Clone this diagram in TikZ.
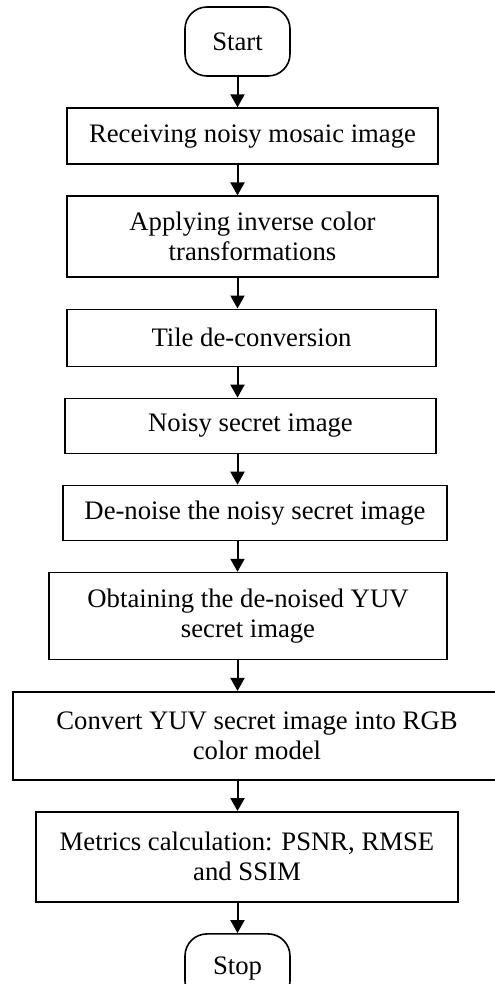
\documentclass[tikz,border=0pt]{standalone}
\usepackage{fontspec}
\setmainfont{Liberation Serif}
\usetikzlibrary{positioning,arrows.meta}

\begin{document}
\begin{tikzpicture}[
terminal/.style={draw,line width=0.8pt,rounded corners=11pt,minimum width=52.5pt,minimum height=34.5pt},
process/.style={draw,line width=0.8pt,align=center,inner sep=2pt},
flowline/.style={line width=1pt,-{Triangle[length=6.5pt,width=7pt]}},
node distance=15.25pt,
font=\fontsize{13.35pt}{15pt}\selectfont]
\useasboundingbox (0,0) rectangle (247pt,-492pt);
\node[terminal] (start) at (118.75pt,-20.75pt) {Start};
\node[process,minimum width=185.5pt,minimum height=28pt,below=of start,xshift=7.5pt] (receive) {Receiving noisy mosaic image};
\node[process,minimum width=185.5pt,minimum height=40.5pt,below=of receive] (inverse) {Applying inverse color\\transformations};
\node[process,minimum width=184.5pt,minimum height=28.5pt,below=of inverse,xshift=-0.5pt] (tile) {Tile de-conversion};
\node[process,minimum width=185.5pt,minimum height=27.5pt,below=of tile,xshift=-0.5pt] (noisy) {Noisy secret image};
\node[process,minimum width=192pt,minimum height=27.5pt,below=of noisy,xshift=2.25pt] (denoise) {De-noise the noisy secret image};
\node[process,minimum width=199pt,minimum height=43.5pt,below=of denoise,xshift=-3.5pt] (obtain) {Obtaining the de-noised YUV\\secret image};
\node[process,minimum width=244pt,minimum height=44pt,below=of obtain,xshift=4.5pt] (convert) {Convert YUV secret image into RGB\\color model};
\node[process,minimum width=211pt,minimum height=45pt,below=of convert,xshift=-5pt] (metrics) {Metrics calculation: PSNR, RMSE\\and SSIM};
\node[terminal,below=of metrics,xshift=-4.75pt] (stop) {Stop};

\draw[flowline] (start) -- (receive.north -| start);
\draw[flowline] (receive.south -| start) -- (inverse.north -| start);
\draw[flowline] (inverse.south -| start) -- (tile.north -| start);
\draw[flowline] (tile.south -| start) -- (noisy.north -| start);
\draw[flowline] (noisy.south -| start) -- (denoise.north -| start);
\draw[flowline] (denoise.south -| start) -- (obtain.north -| start);
\draw[flowline] (obtain.south -| start) -- (convert.north -| start);
\draw[flowline] (convert.south -| start) -- (metrics.north -| start);
\draw[flowline] (metrics.south -| start) -- (stop);
\end{tikzpicture}
\end{document}
